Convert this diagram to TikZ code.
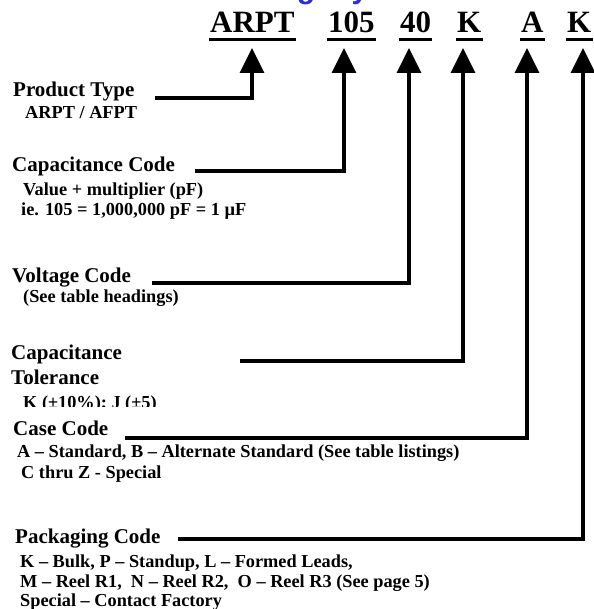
\documentclass[tikz,border=0pt]{standalone}
\usepackage{fontspec}
\setmainfont{Liberation Serif}
\newfontfamily\titlefont{Liberation Sans}
\usetikzlibrary{arrows.meta}
\definecolor{titleblue}{RGB}{45,45,215}
\begin{document}
\begin{tikzpicture}[x=1pt,y=-1pt,
  head/.style={anchor=base west,inner sep=0pt,font=\fontsize{31}{31}\selectfont\bfseries},
  lbl/.style={anchor=base west,inner sep=0pt,font=\fontsize{21}{21}\selectfont\bfseries},
  sub/.style={anchor=base west,inner sep=0pt,font=\fontsize{18.3}{18.3}\selectfont\bfseries},
  ttl/.style={anchor=base,inner sep=0pt,text=titleblue,font=\titlefont\fontsize{30}{30}\selectfont\bfseries},
  uline/.style={line width=3pt},
  arr/.style={line width=3.5pt,-{Triangle[width=24pt,length=25pt]}}]
\useasboundingbox (0,0) rectangle (593,609);

% clipped title (only descenders visible)
\begin{scope}
  \clip (250,0) rectangle (400,8);
  \node[ttl] (tg) at (306,-1) {g};
  \node[ttl] (ty) at (360,-1) {y};
\end{scope}

% heading codes
\node[head] (h1) at (210,33) {ARPT};
\node[head] (h2) at (328,33) {105};
\node[head] (h3) at (400,33) {40};
\node[head] (h4) at (457,33) {K};
\node[head] (h5) at (521,33) {A};
\node[head] (h6) at (567,33) {K};
\foreach \h in {h1,h2,h3,h4,h5,h6}
  \draw[uline] ([xshift=-1.5pt,yshift=-6.5pt]\h.base west) -- ([xshift=1pt,yshift=-6.5pt]\h.base east);

% labels
\node[lbl] (pt) at (13,97) {Product Type};
\node[sub] (pts) at (25,119) {ARPT / AFPT};

\node[lbl] (cc) at (12,172) {Capacitance Code};
\node[sub] (cc1) at (23,196) {Value + multiplier (pF)};
\node[sub] (cc2) at (21,216) {ie. 105 = 1,000,000 pF = 1 µF};

\node[lbl] (vc) at (12,282) {Voltage Code};
\node[sub] (vcs) at (23,302) {(See table headings)};

\node[lbl] (ct1) at (11,359) {Capacitance};
\node[lbl] (ct2) at (11,384) {Tolerance};
\begin{scope}
  \clip (0,386) rectangle (300,406);
  \node[sub] (cts) at (23,408) {K (±10\%); J (±5)};
\end{scope}

\node[lbl] (cs) at (13,435) {Case Code};
\node[sub] (cs1) at (17,457) {A – Standard, B – Alternate Standard (See table listings)};
\node[sub] (cs2) at (21,478) {C thru Z - Special};

\node[lbl] (pk) at (15,543) {Packaging Code};
\node[sub] (pk1) at (20,567) {K – Bulk, P – Standup, L – Formed Leads,};
\node[sub] (pk2) at (20,587) {M – Reel R1,\ \ N – Reel R2,\ \ O – Reel R3 (See page 5)};
\node[sub] (pk3) at (20,606) {Special – Contact Factory};

% connector start points and arrow tips
\coordinate (s1) at (155,98);
\coordinate (s2) at (195,171);
\coordinate (s3) at (152,283);
\coordinate (s4) at (240,361);
\coordinate (s5) at (125,438);
\coordinate (s6) at (178,539);
\coordinate (t1) at (252,48);
\coordinate (t2) at (344,48);
\coordinate (t3) at (409,48);
\coordinate (t4) at (463,48);
\coordinate (t5) at (527,48);
\coordinate (t6) at (583,48);

\draw[arr] (s1) -| (t1);
\draw[arr] (s2) -| (t2);
\draw[arr] (s3) -| (t3);
\draw[arr] (s4) -| (t4);
\draw[arr] (s5) -| (t5);
\draw[arr] (s6) -| (t6);
\end{tikzpicture}
\end{document}
